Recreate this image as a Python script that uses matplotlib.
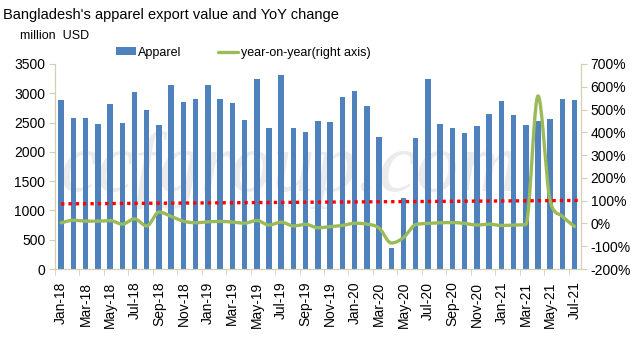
import matplotlib
matplotlib.use("Agg")
import matplotlib.pyplot as plt
import numpy as np

# ---------------------------------------------------------------------------
# data
# ---------------------------------------------------------------------------
months = ["Jan-18", "Feb-18", "Mar-18", "Apr-18", "May-18", "Jun-18", "Jul-18", "Aug-18",
          "Sep-18", "Oct-18", "Nov-18", "Dec-18", "Jan-19", "Feb-19", "Mar-19", "Apr-19",
          "May-19", "Jun-19", "Jul-19", "Aug-19", "Sep-19", "Oct-19", "Nov-19", "Dec-19",
          "Jan-20", "Feb-20", "Mar-20", "Apr-20", "May-20", "Jun-20", "Jul-20", "Aug-20",
          "Sep-20", "Oct-20", "Nov-20", "Dec-20", "Jan-21", "Feb-21", "Mar-21", "Apr-21",
          "May-21", "Jun-21", "Jul-21"]

apparel = [2880, 2582, 2571, 2468, 2810, 2485, 3015, 2708, 2451, 3135, 2844, 2896,
           3135, 2896, 2827, 2537, 3238, 2400, 3306, 2400, 2331, 2519, 2505, 2930,
           3032, 2776, 2246, 365, 1220, 2229, 3238, 2468, 2400, 2314, 2434, 2639,
           2861, 2622, 2451, 2519, 2554, 2896, 2879]

yoy = [3, 14, 10, 10, 13, -3, 20, -11, 50, 31, 10, 3,
       7, 9, 6, 1, 13, -7, 6, -11, -4, -19, -14, -9,
       1, -3, -20, -86, -62, -5, 0, 3, 4, 0, -7, -3,
       -9, -7, -5, 560, 96, 31, -14]

trend_ends = [86, 101]   # red dotted line, right axis (%)

# ---------------------------------------------------------------------------
def smooth(x, y, n=20):
    # cubic Hermite drawing of the line (no overshoot), like a smoothed line
    x = np.asarray(x, float)
    y = np.asarray(y, float)
    d = np.diff(y) / np.diff(x)
    m = np.zeros_like(y)
    m[0], m[-1] = d[0], d[-1]
    for i in range(1, len(y) - 1):
        if d[i - 1] * d[i] <= 0:
            m[i] = 0.0
        else:
            m[i] = 0.5 * (d[i - 1] + d[i])
            m[i] = np.sign(m[i]) * min(abs(m[i]), 3 * abs(d[i - 1]), 3 * abs(d[i]))
    xs, ys = [], []
    t = np.linspace(0, 1, n, endpoint=False)
    for i in range(len(x) - 1):
        h = x[i + 1] - x[i]
        h00 = 2 * t**3 - 3 * t**2 + 1
        h10 = t**3 - 2 * t**2 + t
        h01 = -2 * t**3 + 3 * t**2
        h11 = t**3 - t**2
        xs.extend(x[i] + t * h)
        ys.extend(h00 * y[i] + h10 * h * m[i] + h01 * y[i + 1] + h11 * h * m[i + 1])
    xs.append(x[-1])
    ys.append(y[-1])
    return np.array(xs), np.array(ys)


plt.rcParams['font.family'] = ['Liberation Sans', 'DejaVu Sans']
axis_col = '#d5cfb2'
bar_col = '#4f81bd'
line_col = '#9bbb59'

fig = plt.figure(figsize=(6.42, 3.4), dpi=100)
ax = fig.add_axes([0.0857, 0.2088, 0.819, 0.603])
ax2 = ax.twinx()

x = np.arange(len(months))

# watermark
fig.text(0.452, 0.50, "ccfgroup.com", fontsize=61, family='Liberation Serif',
         style='italic', color='#ebebeb', ha='center', va='center', zorder=0)
ax.set_zorder(1)
ax.patch.set_visible(False)
ax2.set_zorder(2)

bars = ax.bar(x, apparel, width=0.45, color=bar_col, zorder=2, label="Apparel")
ax.set_ylim(0, 3500)
ax.set_yticks(np.arange(0, 3501, 500))
ax.set_xlim(-0.5, len(months) - 0.5)
ax.set_xticks(x[::2])
ax.set_xticklabels(months[::2], rotation=90, fontsize=10)
ax.set_xticks(np.arange(-0.5, len(months), 2), minor=True)
ax.tick_params(axis='x', which='major', length=0, pad=9)
ax.tick_params(axis='x', which='minor', length=4, color=axis_col)
ax.tick_params(axis='y', labelsize=10, length=4, color=axis_col, pad=3)

sx, sy = smooth(x, yoy)
ln, = ax2.plot(sx, sy, color=line_col, lw=2.4, solid_capstyle='round',
               label="year-on-year(right axis)")
ax2.plot([x[0], x[-1] + 0.5], trend_ends, color='#ff0000', lw=2.4,
         linestyle=(0, (1, 1.2)))
ax2.set_ylim(-200, 700)
ax2.set_yticks(np.arange(-200, 701, 100))
ax2.set_yticklabels([f"{v}%" for v in range(-200, 701, 100)])
ax2.tick_params(axis='y', labelsize=10, length=4, color=axis_col, pad=3)

for a in (ax, ax2):
    a.spines['top'].set_visible(False)
    for side in ('left', 'right', 'bottom'):
        a.spines[side].set_color(axis_col)

fig.text(0.005, 0.955, "Bangladesh's apparel export value and YoY change",
         fontsize=10.5, ha='left', va='center')
fig.text(0.031, 0.893, "million  USD", fontsize=9, ha='left', va='center')

fig.legend([bars, ln], ["Apparel", "year-on-year(right axis)"], ncol=2,
           loc='center left', bbox_to_anchor=(0.163, 0.845), frameon=False,
           fontsize=9, handlelength=1.6, handletextpad=0.2, columnspacing=2.9,
           handleheight=0.6)

fig.savefig("out.png", dpi=100)
